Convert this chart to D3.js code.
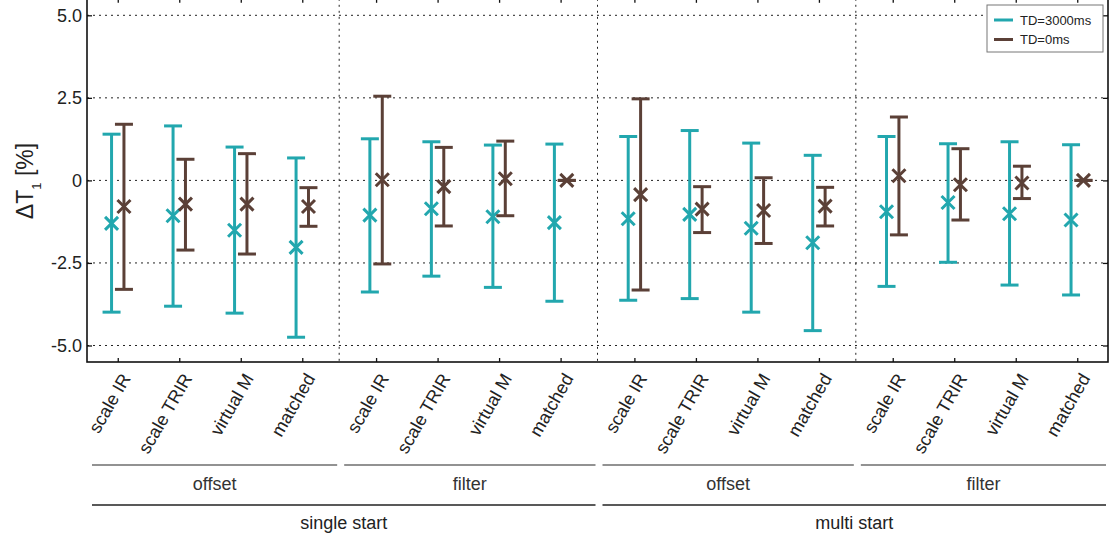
<!DOCTYPE html>
<html>
<head>
<meta charset="utf-8">
<script src="https://cdn.jsdelivr.net/npm/d3@7"></script>
<style>
  html, body { margin: 0; padding: 0; background: #fff; }
  svg { display: block; font-family: "Liberation Sans", Arial, sans-serif; }
</style>
</head>
<body>
<svg id="chart" width="1113" height="540"></svg>
<script>
// Methods within each group, and the two-level grouping below the axis
const methods = ["scale IR", "scale TRIR", "virtual M", "matched"];
const variants = ["offset", "filter", "offset", "filter"];
const starts = ["single start", "multi start"];

// TD = 3000 ms: mean, lower and upper whisker (ΔT1 in %)
const td3000Mean = [-1.30, -1.07, -1.51, -2.03, -1.05, -0.86, -1.10, -1.28, -1.16, -1.03, -1.45, -1.89, -0.95, -0.67, -1.01, -1.20];
const td3000Low  = [-3.99, -3.81, -4.02, -4.75, -3.38, -2.90, -3.24, -3.66, -3.63, -3.58, -3.99, -4.55, -3.21, -2.48, -3.17, -3.47];
const td3000High = [ 1.40,  1.65,  1.01,  0.68,  1.26,  1.17,  1.07,  1.10,  1.33,  1.51,  1.13,  0.76,  1.33,  1.11,  1.17,  1.08];

// TD = 0 ms
const td0Mean = [-0.79, -0.72, -0.72, -0.79,  0.02, -0.19,  0.05, 0.00, -0.43, -0.87, -0.91, -0.78,  0.14, -0.13, -0.08, 0.00];
const td0Low  = [-3.30, -2.11, -2.23, -1.39, -2.53, -1.38, -1.07, 0.00, -3.32, -1.58, -1.91, -1.38, -1.65, -1.20, -0.55, 0.00];
const td0High = [ 1.70,  0.64,  0.81, -0.22,  2.55,  1.00,  1.19, 0.00,  2.47, -0.19,  0.08, -0.21,  1.92,  0.96,  0.43, 0.00];

const yTicks = [-5, -2.5, 0, 2.5, 5];
const yTickLabels = ["-5.0", "-2.5", "0", "2.5", "5.0"];
const seriesNames = ["TD=3000ms", "TD=0ms"];
const seriesColors = ["#22a7ae", "#5b4037"];

const svg = d3.select("#chart");
const plot = { left: 87, right: 1108, top: -1.2, bottom: 362 };
const groupGap = 0.2;
const nPer = methods.length;

// position of each category on the x axis: index plus a small gap per group
const pos = i => i + Math.floor(i / nPer) * groupGap;
const nCat = variants.length * nPer;
const x = d3.scaleLinear()
  .domain([-0.5, pos(nCat - 1) + 0.5])
  .range([plot.left, plot.right]);
const y = d3.scaleLinear().domain([-5.5, 5.5]).range([plot.bottom, plot.top]);

const g = svg.append("g");

// horizontal grid
g.append("g").selectAll("line").data(yTicks).join("line")
  .attr("x1", plot.left).attr("x2", plot.right)
  .attr("y1", d => y(d)).attr("y2", d => y(d))
  .attr("stroke", "#222").attr("stroke-width", 1)
  .attr("stroke-dasharray", "2,4");

// vertical separators between groups
const seps = d3.range(1, variants.length).map(k => (pos(k * nPer - 1) + pos(k * nPer)) / 2);
g.append("g").selectAll("line").data(seps).join("line")
  .attr("x1", d => x(d)).attr("x2", d => x(d))
  .attr("y1", plot.top).attr("y2", plot.bottom)
  .attr("stroke", "#222").attr("stroke-width", 1)
  .attr("stroke-dasharray", "2,4");

// axes (ticks point inward on all sides)
const idx = d3.range(nCat);
g.append("g").attr("transform", `translate(0,${plot.bottom})`)
  .call(d3.axisBottom(x).tickValues(idx.map(pos)).tickSize(-4).tickFormat(""))
  .call(a => a.select(".domain").remove())
  .call(a => a.selectAll("line").attr("stroke", "#111").attr("stroke-width", 1.3));
g.append("g").attr("transform", `translate(0,${plot.top})`)
  .call(d3.axisTop(x).tickValues(idx.map(pos)).tickSize(-4).tickFormat(""))
  .call(a => a.select(".domain").remove())
  .call(a => a.selectAll("line").attr("stroke", "#111").attr("stroke-width", 1.3));
g.append("g").attr("transform", `translate(${plot.left},0)`)
  .call(d3.axisLeft(y).tickValues(yTicks).tickSize(-5).tickPadding(5)
        .tickFormat((d, i) => yTickLabels[i]))
  .call(a => a.select(".domain").remove())
  .call(a => a.selectAll("line").attr("stroke", "#111").attr("stroke-width", 1.3))
  .call(a => a.selectAll("text").attr("font-size", 18).attr("fill", "#222")
        .attr("font-family", "Liberation Sans, Arial, sans-serif"));
g.append("g").attr("transform", `translate(${plot.right},0)`)
  .call(d3.axisRight(y).tickValues(yTicks).tickSize(-5).tickFormat(""))
  .call(a => a.select(".domain").remove())
  .call(a => a.selectAll("line").attr("stroke", "#111").attr("stroke-width", 1.3));

// frame
g.append("rect")
  .attr("x", plot.left).attr("y", plot.top)
  .attr("width", plot.right - plot.left).attr("height", plot.bottom - plot.top)
  .attr("fill", "none").attr("stroke", "#111").attr("stroke-width", 1.6);

// error bars with X markers
const series = [
  { mean: td3000Mean, low: td3000Low, high: td3000High, dx: -6.2, color: seriesColors[0] },
  { mean: td0Mean, low: td0Low, high: td0High, dx: 6.2, color: seriesColors[1] }
];
const capW = 9, mk = 6.5;
series.forEach(s => {
  const sg = g.append("g").attr("stroke", s.color).attr("stroke-width", 3).attr("fill", "none");
  const items = sg.selectAll("g").data(idx).join("g")
    .attr("transform", i => `translate(${x(pos(i)) + s.dx},0)`);
  items.append("line").attr("x1", 0).attr("x2", 0)
    .attr("y1", i => y(s.low[i])).attr("y2", i => y(s.high[i]));
  items.append("line").attr("x1", -capW).attr("x2", capW)
    .attr("y1", i => y(s.low[i])).attr("y2", i => y(s.low[i]));
  items.append("line").attr("x1", -capW).attr("x2", capW)
    .attr("y1", i => y(s.high[i])).attr("y2", i => y(s.high[i]));
  items.append("path")
    .attr("d", i => {
      const cy = y(s.mean[i]);
      return `M${-mk},${cy - mk}L${mk},${cy + mk}M${-mk},${cy + mk}L${mk},${cy - mk}`;
    });
});

// rotated category labels
g.append("g").selectAll("text").data(idx).join("text")
  .attr("transform", i => `translate(${x(pos(i)) + 8},${plot.bottom + 13}) rotate(-60)`)
  .attr("text-anchor", "end")
  .attr("dy", "0.35em")
  .attr("font-size", 18).attr("fill", "#222")
  .text(i => methods[i % nPer]);

// first grouping row: offset / filter
const rowY1 = 465, rowY2 = 505;
const bounds = d3.range(variants.length + 1).map(k =>
  k === 0 ? -0.5 : k === variants.length ? pos(nCat - 1) + 0.5 : seps[k - 1]);
variants.forEach((v, k) => {
  const x0 = x(bounds[k]) + 5, x1 = x(bounds[k + 1]) - 2;
  g.append("line").attr("x1", x0).attr("x2", x1).attr("y1", rowY1).attr("y2", rowY1)
    .attr("stroke", "#6e6e6e").attr("stroke-width", 1.5);
  g.append("text").attr("x", (x0 + x1) / 2).attr("y", rowY1 + 25)
    .attr("text-anchor", "middle").attr("font-size", 18).attr("fill", "#333").text(v);
});
// second grouping row: single / multi start
starts.forEach((s, k) => {
  const x0 = x(bounds[k * 2]) + 5, x1 = x(bounds[k * 2 + 2]) - 2;
  g.append("line").attr("x1", x0).attr("x2", x1).attr("y1", rowY2).attr("y2", rowY2)
    .attr("stroke", "#222").attr("stroke-width", 1.5);
  g.append("text").attr("x", (x0 + x1) / 2).attr("y", rowY2 + 24)
    .attr("text-anchor", "middle").attr("font-size", 18).attr("fill", "#222").text(s);
});

// y axis title
const yt = svg.append("text")
  .attr("transform", `translate(33,181) rotate(-90)`)
  .attr("text-anchor", "middle").attr("font-size", 23).attr("fill", "#222");
yt.append("tspan").text("ΔT");
yt.append("tspan").attr("font-size", 13).attr("baseline-shift", "sub").text("1");
yt.append("tspan").text(" [%]");

// legend
const lg = svg.append("g").attr("transform", "translate(987,5)");
lg.append("rect").attr("width", 116).attr("height", 47)
  .attr("fill", "#fff").attr("stroke", "#777").attr("stroke-width", 1);
seriesNames.forEach((n, i) => {
  const ly = 15 + i * 19.5;
  lg.append("line").attr("x1", 7).attr("x2", 26).attr("y1", ly).attr("y2", ly)
    .attr("stroke", seriesColors[i]).attr("stroke-width", 3);
  lg.append("text").attr("x", 33).attr("y", ly).attr("dy", "0.35em")
    .attr("font-size", 13).attr("fill", "#222").text(n);
});
</script>
</body>
</html>
